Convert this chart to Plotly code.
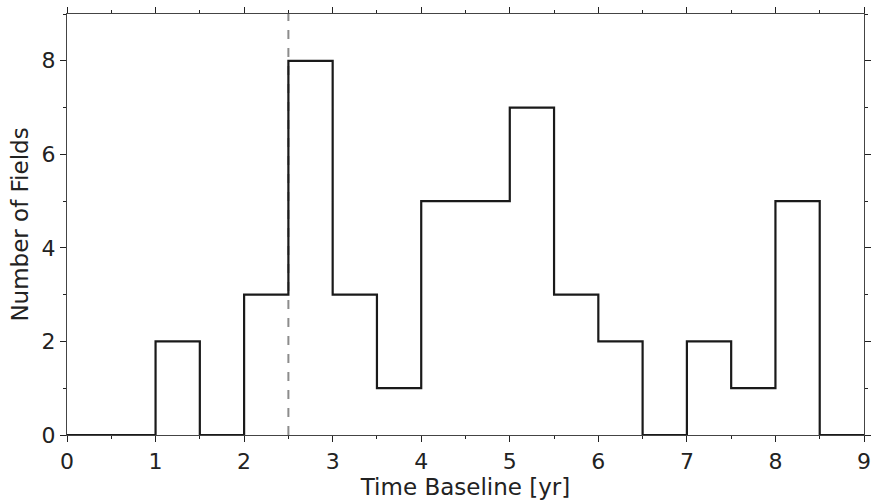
import plotly.graph_objects as go

bin_edges = [0, 0.5, 1, 1.5, 2, 2.5, 3, 3.5, 4, 4.5, 5, 5.5, 6, 6.5, 7, 7.5, 8, 8.5, 9]
counts = [0, 0, 2, 0, 3, 8, 3, 1, 5, 5, 7, 3, 2, 0, 2, 1, 5, 0]
marker_x = 2.5

x_step = bin_edges
y_step = counts + [counts[-1]]

fig = go.Figure()
fig.add_trace(go.Scatter(
    x=x_step, y=y_step, mode="lines", line_shape="hv",
    line=dict(color="#1a1a1a", width=2.2), showlegend=False, cliponaxis=False,
))
fig.add_shape(type="line", x0=marker_x, x1=marker_x, y0=0, y1=9, xref="x", yref="y",
              line=dict(color="#8c8c8c", width=2, dash="dash"), layer="below")

axis_common = dict(
    showgrid=False, zeroline=False, showline=True, linecolor="#444444", linewidth=1.3,
    ticks="outside", ticklen=6, tickwidth=1.3, tickcolor="#222222", mirror="allticks",
    tickfont=dict(family="DejaVu Sans", size=22, color="#222222"),
    automargin=False, ticklabeloverflow="allow",
)
fig.update_layout(
    width=873, height=502,
    margin=dict(l=67, r=9, t=14, b=67),
    plot_bgcolor="white", paper_bgcolor="white",
    xaxis=dict(range=[0, 9], tickmode="linear", tick0=0, dtick=1,
               minor=dict(dtick=0.5, ticklen=3, ticks="outside", tickcolor="#222222", tickwidth=1.3),
               title=dict(text="Time Baseline [yr]", font=dict(family="DejaVu Sans", size=23, color="#222222"), standoff=0),
               **axis_common),
    yaxis=dict(range=[0, 9], tickmode="array", tickvals=[0, 2, 4, 6, 8],
               minor=dict(tickmode="array", tickvals=[1, 3, 5, 7, 9], ticklen=3, ticks="outside", tickcolor="#222222", tickwidth=1.3),
               title=dict(text="Number of Fields", font=dict(family="DejaVu Sans", size=23, color="#222222"), standoff=6),
               **axis_common),
)
fig.write_html("out.html")
